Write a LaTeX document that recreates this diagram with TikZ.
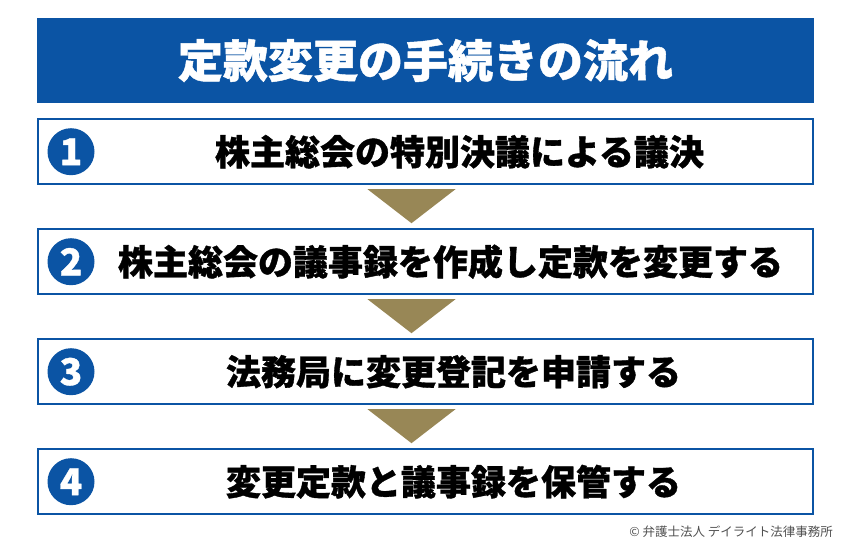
\documentclass[tikz,border=0pt]{standalone}
\usepackage{fontspec}
\setmainfont{Noto Sans CJK JP}[BoldFeatures={FakeBold=1}]
\usetikzlibrary{positioning,calc}
\definecolor{bannerblue}{RGB}{11,84,164}
\definecolor{arrowgold}{RGB}{152,135,86}
\definecolor{creditgray}{RGB}{80,80,80}

\begin{document}
\begin{tikzpicture}[x=1pt,y=-1pt,
  banner/.style={fill=bannerblue, minimum width=777pt, minimum height=85pt, inner sep=0pt, text=white, font=\bfseries\fontsize{45}{45}\selectfont},
  stepbox/.style={draw=bannerblue, line width=2pt, fill=white, minimum width=775pt, minimum height=65pt, inner sep=0pt},
  numdot/.style={circle, fill=bannerblue, minimum size=47pt, inner sep=0pt, text=white, font=\bfseries\fontsize{37}{37}\selectfont},
  steptext/.style={font=\bfseries\fontsize{35}{35}\selectfont, inner sep=0pt},
  downarrow/.style={fill=arrowgold}
]
\useasboundingbox (0,0) rectangle (850,551);
\node[banner] (title) at (425.5,60.5) {定款変更の手続きの流れ};
\node[stepbox, below=15pt of title] (s1) {};
\node[stepbox, below=43pt of s1] (s2) {};
\node[stepbox, below=43pt of s2] (s3) {};
\node[stepbox, below=43pt of s3] (s4) {};
% numbers
\node[numdot] (n1) at ([xshift=34pt]s1.west) {1};
\node[numdot] (n2) at ([xshift=34pt]s2.west) {2};
\node[numdot] (n3) at ([xshift=34pt]s3.west) {3};
\node[numdot] (n4) at ([xshift=34pt]s4.west) {4};
% texts
\node[steptext] (t1) at ([xshift=34pt]s1.center) {株主総会の特別決議による議決};
\node[steptext] (t2) at ([xshift=25pt]s2.center) {株主総会の議事録を作成し定款を変更する};
\node[steptext] (t3) at ([xshift=28pt]s3.center) {法務局に変更登記を申請する};
\node[steptext] (t4) at ([xshift=28pt]s4.center) {変更定款と議事録を保管する};
% arrows between steps
\fill[downarrow] ($(s1.south)+(-58,4)$) -- ($(s1.south)+(30,4)$) -- ($(s2.north)+(-14,-5)$) -- cycle;
\fill[downarrow] ($(s2.south)+(-58,4)$) -- ($(s2.south)+(30,4)$) -- ($(s3.north)+(-14,-5)$) -- cycle;
\fill[downarrow] ($(s3.south)+(-58,4)$) -- ($(s3.south)+(30,4)$) -- ($(s4.north)+(-14,-5)$) -- cycle;
\node[anchor=east, text=creditgray, font=\fontsize{12.5}{12.5}\selectfont, inner sep=0pt] (credit) at (833,532) {© 弁護士法人 デイライト法律事務所};
\end{tikzpicture}
\end{document}
